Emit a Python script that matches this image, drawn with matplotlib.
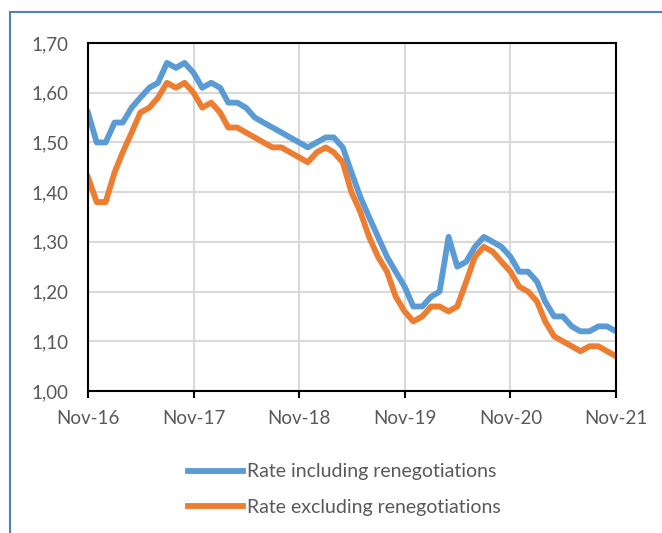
import numpy as np
import pandas as pd
import matplotlib
matplotlib.use("Agg")
import matplotlib.pyplot as plt
import matplotlib.dates as mdates
from matplotlib.patches import Rectangle
from matplotlib.ticker import FuncFormatter, MultipleLocator

# monthly values, Nov-16 .. Nov-21
meses = pd.date_range("2016-11-01", periods=61, freq="MS")

taxa_com = [1.56, 1.50, 1.50, 1.54, 1.54, 1.57, 1.59, 1.61, 1.62, 1.66,
            1.65, 1.66, 1.64, 1.61, 1.62, 1.61, 1.58, 1.58, 1.57, 1.55,
            1.54, 1.53, 1.52, 1.51, 1.50, 1.49, 1.50, 1.51, 1.51, 1.49,
            1.44, 1.39, 1.35, 1.31, 1.27, 1.24, 1.21, 1.17, 1.17, 1.19,
            1.20, 1.31, 1.25, 1.26, 1.29, 1.31, 1.30, 1.29, 1.27, 1.24,
            1.24, 1.22, 1.18, 1.15, 1.15, 1.13, 1.12, 1.12, 1.13, 1.13,
            1.12]

taxa_sem = [1.43, 1.38, 1.38, 1.44, 1.48, 1.52, 1.56, 1.57, 1.59, 1.62,
            1.61, 1.62, 1.60, 1.57, 1.58, 1.56, 1.53, 1.53, 1.52, 1.51,
            1.50, 1.49, 1.49, 1.48, 1.47, 1.46, 1.48, 1.49, 1.48, 1.46,
            1.40, 1.36, 1.31, 1.27, 1.24, 1.19, 1.16, 1.14, 1.15, 1.17,
            1.17, 1.16, 1.17, 1.22, 1.27, 1.29, 1.28, 1.26, 1.24, 1.21,
            1.20, 1.18, 1.14, 1.11, 1.10, 1.09, 1.08, 1.09, 1.09, 1.08,
            1.07]

nomes = ["Rate including renegotiations", "Rate excluding renegotiations"]
cores = ["#5B9BD5", "#ED7D31"]

plt.rcParams["font.family"] = ["Lato", "DejaVu Sans"]
cinza = "#595959"

fig = plt.figure(figsize=(6.62, 5.33), dpi=100)
ax = fig.add_axes([88 / 662, 1 - 391 / 533, (616 - 88) / 662, (391 - 43) / 533])

ax.plot(meses, taxa_com, color=cores[0], lw=4.2, label=nomes[0], solid_joinstyle="round")
ax.plot(meses, taxa_sem, color=cores[1], lw=4.2, label=nomes[1], solid_joinstyle="round")

ax.set_xlim(meses[0], meses[-1])
ax.set_ylim(1.0, 1.7)
ax.yaxis.set_major_locator(MultipleLocator(0.1))
ax.yaxis.set_major_formatter(FuncFormatter(lambda v, _: f"{v:.2f}".replace(".", ",")))
ax.xaxis.set_major_locator(mdates.MonthLocator(bymonth=11))
ax.xaxis.set_major_formatter(mdates.DateFormatter("%b-%y"))

ax.grid(True, color="#D9D9D9", lw=1.5)
ax.set_axisbelow(True)
for s in ax.spines.values():
    s.set_color("black")
    s.set_linewidth(1.5)

ax.tick_params(axis="y", length=0, pad=14, labelsize=13.5, labelcolor=cinza)
ax.tick_params(axis="x", length=5, width=1.5, pad=9, labelsize=13.5, labelcolor=cinza)

fig.legend(loc="upper center", bbox_to_anchor=(0.52, 1 - 446 / 533), frameon=False,
           fontsize=14, handlelength=2.8, handletextpad=0.2, labelspacing=0.95,
           labelcolor=cinza)

borda = Rectangle((10 / 662, -0.1), 1.2, 1 - 12 / 533 + 0.1, transform=fig.transFigure,
                  fill=False, edgecolor="#4F81BD", lw=1.5, clip_on=False)
fig.patches.append(borda)

fig.savefig("out.png", dpi=100)
